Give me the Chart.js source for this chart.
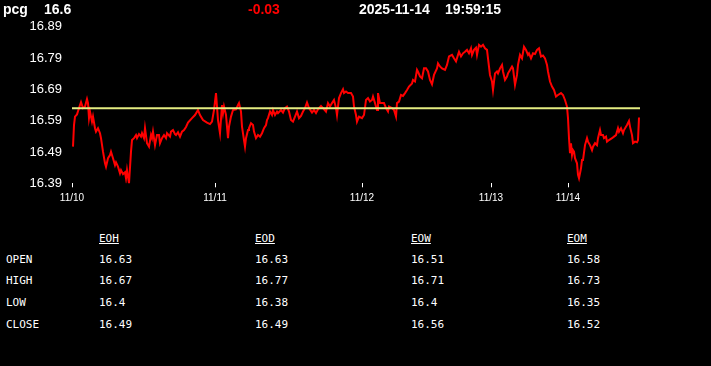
<!DOCTYPE html>
<html>
<head>
<meta charset="utf-8">
<script src="https://cdn.jsdelivr.net/npm/chart.js@4.4.0/dist/chart.umd.min.js"></script>
<style>
  html, body { margin: 0; padding: 0; background: #000; width: 711px; height: 366px; overflow: hidden; }
  #wrap { position: relative; width: 711px; height: 366px; }
  #c { position: absolute; left: 0; top: 0; }
  .hd { position: absolute; top: 1px; font: bold 14px "Liberation Sans", Arial, sans-serif; line-height: 16px; color: #fff; white-space: pre; }
  .tb { position: absolute; font: 11px "DejaVu Sans Mono", monospace; line-height: 13px; color: #fff; white-space: pre; }
  .tb.h { text-decoration: underline; }
</style>
</head>
<body>
<div id="wrap">
  <canvas id="c" width="711" height="210"></canvas>
</div>
<script>
// ---- header values ----
const symbol = "pcg";
const lastPrice = "16.6";
const change = "-0.03";
const dateText = "2025-11-14";
const timeText = "19:59:15";

// ---- chart data (session time index, price) ----
const times = [1,2,3,5,8,9,11,13,15,16,17,18,20,21,23,24,26,28,29,31,33,34,36,38,39,41,43,44,46,48,49,51,53,54,55,57,59,60,62,64,65,67,69,70,72,73,75,77,79,80,81,83,85,87,88,90,92,94,95,98,99,101,103,104,106,108,110,112,114,116,120,123,126,128,131,135,138,140,142,144,145,146,148,150,151,152,154,155,156,157,159,161,164,166,167,169,170,172,173,174,176,177,179,181,182,184,186,188,190,192,194,195,196,198,200,201,203,205,206,209,211,213,215,217,219,221,223,225,227,229,231,233,235,237,240,242,244,246,249,251,254,256,258,260,262,264,265,267,269,271,272,274,276,279,281,282,284,285,287,290,292,294,296,298,300,301,303,305,306,308,310,312,314,316,317,320,322,324,325,327,329,331,333,335,337,340,341,343,345,346,348,350,352,354,356,358,360,362,365,366,368,370,373,375,377,380,382,384,386,387,389,391,393,395,397,399,400,402,404,405,407,409,411,413,415,416,418,420,421,423,425,426,428,430,431,433,435,436,438,440,441,443,445,446,448,450,452,454,456,457,459,461,463,465,467,469,471,473,475,476,478,480,482,484,486,489,491,493,495,496,497,498,499,500,501,502,503,505,506,507,509,510,511,513,515,516,518,520,521,523,525,526,528,529,531,532,534,535,537,540,542,544,546,547,549,551,552,555,557,558,560,561,563,565,566,567];
const prices = [16.507,16.576,16.603,16.610,16.640,16.649,16.630,16.635,16.659,16.646,16.598,16.619,16.587,16.603,16.566,16.555,16.566,16.550,16.534,16.491,16.454,16.443,16.470,16.480,16.491,16.470,16.448,16.457,16.443,16.422,16.432,16.419,16.425,16.406,16.432,16.390,16.491,16.528,16.534,16.544,16.534,16.547,16.539,16.550,16.534,16.566,16.518,16.507,16.544,16.534,16.555,16.512,16.544,16.544,16.518,16.534,16.544,16.534,16.550,16.539,16.555,16.560,16.547,16.544,16.553,16.539,16.555,16.560,16.570,16.584,16.598,16.608,16.624,16.608,16.592,16.584,16.579,16.587,16.624,16.678,16.635,16.592,16.550,16.640,16.614,16.635,16.608,16.571,16.534,16.571,16.603,16.624,16.626,16.640,16.646,16.619,16.571,16.528,16.507,16.534,16.560,16.566,16.582,16.576,16.555,16.534,16.544,16.539,16.550,16.566,16.576,16.592,16.598,16.619,16.608,16.624,16.608,16.619,16.614,16.624,16.616,16.630,16.635,16.619,16.592,16.587,16.603,16.619,16.598,16.605,16.619,16.630,16.648,16.630,16.616,16.624,16.614,16.626,16.637,16.630,16.619,16.646,16.635,16.646,16.656,16.630,16.608,16.662,16.678,16.690,16.678,16.683,16.678,16.678,16.667,16.635,16.608,16.587,16.603,16.598,16.608,16.656,16.662,16.651,16.656,16.667,16.646,16.624,16.678,16.646,16.646,16.646,16.630,16.619,16.635,16.630,16.624,16.603,16.646,16.651,16.672,16.669,16.678,16.688,16.699,16.709,16.720,16.715,16.752,16.746,16.731,16.725,16.757,16.757,16.747,16.720,16.706,16.736,16.757,16.773,16.763,16.757,16.752,16.768,16.795,16.800,16.789,16.779,16.800,16.810,16.795,16.805,16.810,16.816,16.805,16.821,16.800,16.816,16.823,16.800,16.832,16.826,16.832,16.821,16.816,16.789,16.736,16.715,16.688,16.741,16.747,16.741,16.757,16.768,16.747,16.720,16.731,16.741,16.752,16.763,16.757,16.704,16.736,16.768,16.800,16.789,16.826,16.816,16.800,16.805,16.789,16.805,16.803,16.816,16.821,16.795,16.798,16.789,16.768,16.747,16.715,16.699,16.688,16.667,16.672,16.678,16.672,16.656,16.635,16.598,16.534,16.486,16.518,16.480,16.496,16.491,16.470,16.454,16.417,16.406,16.438,16.464,16.464,16.512,16.534,16.523,16.512,16.496,16.507,16.518,16.512,16.534,16.560,16.544,16.544,16.534,16.539,16.523,16.528,16.534,16.539,16.544,16.566,16.555,16.566,16.550,16.560,16.576,16.589,16.571,16.544,16.518,16.523,16.521,16.528,16.600];
const refLevel = 16.63;
const xMin = 0, xMax = 568;

// ---- axis ticks ----
const dayTicks = [0, 143, 290, 419, 496];
const dayLabels = ["11/10", "11/11", "11/12", "11/13", "11/14"];
const yTicks = [16.39, 16.49, 16.59, 16.69, 16.79, 16.89];

// ---- table ----
const tableCols = ["EOH", "EOD", "EOW", "EOM"];
const rowNames = ["OPEN", "HIGH", "LOW", "CLOSE"];
const openVals = ["16.63", "16.63", "16.51", "16.58"];
const highVals = ["16.67", "16.77", "16.71", "16.73"];
const lowVals = ["16.4", "16.38", "16.4", "16.35"];
const closeVals = ["16.49", "16.49", "16.56", "16.52"];

// ---- build header ----
const wrap = document.getElementById('wrap');
function addDiv(cls, text, x, y, color) {
  const d = document.createElement('div');
  d.className = cls;
  d.textContent = text;
  d.style.left = x + 'px';
  if (y !== null) d.style.top = y + 'px';
  if (color) d.style.color = color;
  wrap.appendChild(d);
  return d;
}
addDiv('hd', symbol, 3, null);
addDiv('hd', lastPrice, 44, null);
addDiv('hd', change, 248, null, '#ff0000');
addDiv('hd', dateText, 359, null);
addDiv('hd', timeText, 445, null);

// ---- build table ----
const colX = [99, 255, 411, 567];
const rowY = [253, 274, 296, 318];
tableCols.forEach((c, i) => addDiv('tb h', c, colX[i], 232));
const rowsData = [openVals, highVals, lowVals, closeVals];
rowNames.forEach((r, j) => {
  addDiv('tb', r, 6, rowY[j]);
  rowsData[j].forEach((v, i) => addDiv('tb', v, colX[i], rowY[j]));
});

// ---- chart ----
const lineData = times.map((t, i) => ({ x: t, y: prices[i] }));
const refData = [{ x: xMin, y: refLevel }, { x: xMax, y: refLevel }];

new Chart(document.getElementById('c'), {
  type: 'line',
  data: {
    datasets: [
      { data: refData, borderColor: '#e4ec82', borderWidth: 2, pointRadius: 0, tension: 0 },
      { data: lineData, borderColor: '#ff0000', borderWidth: 2, pointRadius: 0, tension: 0 }
    ]
  },
  options: {
    responsive: false,
    animation: false,
    devicePixelRatio: 1,
    layout: { padding: { top: 26.7, right: 71, bottom: 0, left: 0 } },
    plugins: { legend: { display: false }, tooltip: { enabled: false } },
    scales: {
      x: {
        type: 'linear',
        min: xMin,
        max: xMax,
        afterBuildTicks: (axis) => { axis.ticks = dayTicks.map(v => ({ value: v })); },
        afterFit: (axis) => { axis.height = 26.7; },
        ticks: {
          autoSkip: false,
          maxRotation: 0,
          padding: 5,
          color: '#ffffff',
          font: { family: '"Liberation Sans", Arial, sans-serif', size: 10 },
          callback: (v) => dayLabels[dayTicks.indexOf(v)]
        },
        grid: { display: true, drawOnChartArea: false, drawTicks: true, tickLength: 4, color: '#ffffff' },
        border: { display: false }
      },
      y: {
        min: yTicks[0],
        max: yTicks[yTicks.length - 1],
        afterBuildTicks: (axis) => { axis.ticks = yTicks.map(v => ({ value: v })); },
        afterFit: (axis) => { axis.width = 72; },
        ticks: {
          padding: 10,
          color: '#ffffff',
          font: { family: '"Liberation Sans", Arial, sans-serif', size: 13 },
          callback: (v) => v.toFixed(2)
        },
        grid: { display: false, drawTicks: false },
        border: { display: false }
      }
    }
  }
});
</script>
</body>
</html>
